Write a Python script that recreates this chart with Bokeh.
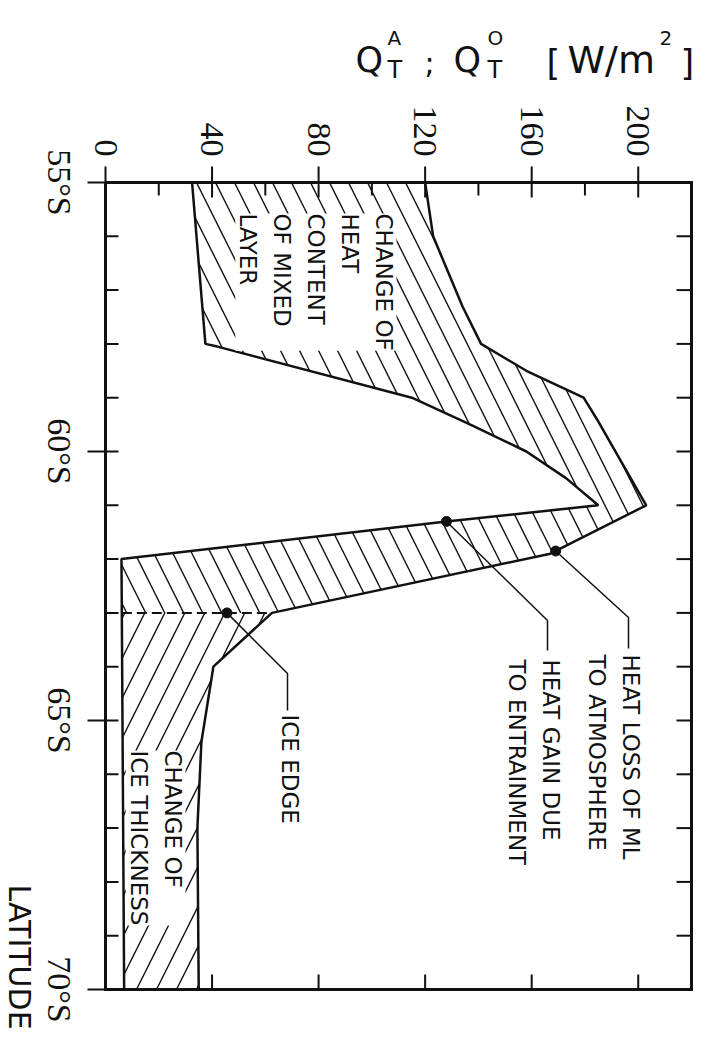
import math
import numpy as np
from bokeh.plotting import figure
from bokeh.models import Range1d, Label, LabelSet, ColumnDataSource
from bokeh.embed import file_html
from bokeh.resources import INLINE

# ---- data: latitude (deg S) and heat flux (W/m^2) ----
# heat loss of the mixed layer to the atmosphere
lat_atm = [55.0, 56.0, 57.3, 58.0, 58.5, 59.0, 59.4, 61.0, 61.9, 63.0, 64.0, 65.4, 67.0, 70.0]
q_atm = [120, 123, 134, 141, 158, 179.5, 184.5, 203, 167, 62.5, 40.5, 36, 34.5, 35]
# heat gain due to entrainment
lat_ent = [55.0, 58.0, 58.05, 59.0, 59.5, 60.0, 60.5, 61.0, 61.3, 62.0, 70.0]
q_ent = [32.5, 37.5, 42, 115, 137, 158, 173, 185, 128, 6, 7]

ice_edge_lat = 63.0
ice_edge_q = 45.6
marker_lat_atm = 61.85
marker_lat_ent = 61.3

flux_ticks = [0, 40, 80, 120, 160, 200]
flux_minor = [20, 60, 100, 140, 180]
flux_bottom_ticks = [40, 80, 120, 160, 200]
lat_ticks = [55, 60, 65, 70]
lat_minor = [56, 57, 58, 59, 61, 62, 63, 64, 66, 67, 68, 69]
lat_labels = ["55°S", "60°S", "65°S", "70°S"]

FONT = "DejaVu Sans"
INK = "#111111"

# ---- page geometry: the plot box sits inside a full-page frame ----
W, H = 708, 1057
BOX_L, BOX_R, BOX_T, BOX_B = 105, 691, 182, 989      # plot box edges, px
Q_LO, Q_HI = 0, 220
LAT_TOP, LAT_BOT = 55, 70
SX = (BOX_R - BOX_L) / (Q_HI - Q_LO)                # px per W/m^2
SY = (BOX_B - BOX_T) / (LAT_BOT - LAT_TOP)          # px per degree


def qx(px):
    """horizontal page pixel -> flux value"""
    return Q_LO + (px - BOX_L) / SX


def ly(py):
    """vertical page pixel -> latitude"""
    return LAT_TOP + (py - BOX_T) / SY


p = figure(width=W, height=H, min_border=0,
           x_range=Range1d(qx(0), qx(W)), y_range=Range1d(ly(H), ly(0)),
           x_axis_location=None, y_axis_location=None,
           toolbar_location=None, output_backend="svg",
           background_fill_color="white", border_fill_color="white")
p.grid.visible = False
p.outline_line_color = None

# ---- hatched areas ----
q_ent_edge = float(np.interp(ice_edge_lat, lat_ent, q_ent))
q_atm_edge = float(np.interp(ice_edge_lat, lat_atm, q_atm))

# change of heat content of the mixed layer (open water, up to the ice edge)
ml_lat = [la for la in lat_atm if la <= ice_edge_lat]
ml_q = [q for la, q in zip(lat_atm, q_atm) if la <= ice_edge_lat]
ml_lat += [ice_edge_lat]
ml_q += [q_ent_edge]
for la, q in reversed(list(zip(lat_ent, q_ent))):
    if la < ice_edge_lat:
        ml_lat.append(la)
        ml_q.append(q)
p.patch(ml_q, ml_lat, fill_color=None, line_color=None,
        hatch_pattern="\\", hatch_scale=38, hatch_weight=1.4, hatch_color=INK)

# change of ice thickness (south of the ice edge)
ice_lat = [ice_edge_lat] + [la for la in lat_atm if la > ice_edge_lat]
ice_q = [q_atm_edge] + [q for la, q in zip(lat_atm, q_atm) if la > ice_edge_lat]
for la, q in reversed(list(zip(lat_ent, q_ent))):
    if la > ice_edge_lat:
        ice_lat.append(la)
        ice_q.append(q)
ice_lat.append(ice_edge_lat)
ice_q.append(q_ent_edge)
p.patch(ice_q, ice_lat, fill_color=None, line_color=None,
        hatch_pattern="/", hatch_scale=40, hatch_weight=1.4, hatch_color=INK)

# ---- axes: box, ticks ----
p.line([Q_LO, Q_HI, Q_HI, Q_LO, Q_LO], [LAT_TOP, LAT_TOP, LAT_BOT, LAT_BOT, LAT_TOP],
       line_color=INK, line_width=3, line_join="miter")


def vticks(values, lat0, up_px, down_px, width=2):
    n = len(values)
    p.segment(x0=values, x1=values, y0=[lat0 - up_px / SY] * n,
              y1=[lat0 + down_px / SY] * n, line_color=INK, line_width=width)


def hticks(values, q0, left_px, right_px, width=2):
    n = len(values)
    p.segment(x0=[q0 - left_px / SX] * n, x1=[q0 + right_px / SX] * n,
              y0=values, y1=values, line_color=INK, line_width=width)


vticks(flux_ticks, LAT_TOP, 16, 15)          # top axis, major
vticks(flux_minor, LAT_TOP, 0, 13)           # top axis, minor
vticks(flux_bottom_ticks, LAT_BOT, 15, 0)    # bottom axis
hticks(lat_ticks, Q_LO, 18, 13)              # left axis, major
hticks(lat_minor, Q_LO, 0, 13)               # left axis, minor
hticks(lat_minor + [60, 65], Q_HI, 15, 0)    # right axis

# ---- curves ----
p.line(q_atm, lat_atm, line_color=INK, line_width=2.5)
p.line(q_ent, lat_ent, line_color=INK, line_width=2.5)
p.line([q_ent_edge, q_atm_edge], [ice_edge_lat, ice_edge_lat],
       line_color=INK, line_width=2, line_dash="10 5")

# ---- markers and leader lines ----
m_atm_q = float(np.interp(marker_lat_atm, lat_atm, q_atm))
m_ent_q = float(np.interp(marker_lat_ent, lat_ent, q_ent))
p.scatter([m_atm_q, m_ent_q, ice_edge_q],
          [marker_lat_atm, marker_lat_ent, ice_edge_lat],
          size=10, color=INK)


def leader(q0, lat0, px_bend, py_bend, py_end):
    p.line([q0, qx(px_bend), qx(px_bend)], [lat0, ly(py_bend), ly(py_end)],
           line_color=INK, line_width=1.5)


leader(m_atm_q, marker_lat_atm, 628, 617, 648)
leader(m_ent_q, marker_lat_ent, 547, 620, 650)
leader(ice_edge_q, ice_edge_lat, 287, 673, 710)

# ---- tick labels ----
flux_src = ColumnDataSource(dict(x=flux_ticks, y=[ly(156)] * len(flux_ticks),
                                 t=[str(v) for v in flux_ticks]))
p.add_layout(LabelSet(x="x", y="y", text="t", source=flux_src,
                      angle=-math.pi / 2, text_align="right",
                      text_baseline="middle", text_font=FONT,
                      text_font_size="34px", text_color=INK))

lat_src = ColumnDataSource(dict(x=[qx(77)] * len(lat_ticks), y=lat_ticks, t=lat_labels))
p.add_layout(LabelSet(x="x", y="y", text="t", source=lat_src,
                      angle=-math.pi / 2, text_align="center",
                      text_baseline="top", text_font=FONT,
                      text_font_size="34px", text_color=INK))

p.add_layout(Label(x=qx(36), y=ly(884), text="LATITUDE", angle=-math.pi / 2,
                   text_align="left", text_baseline="top", text_font=FONT,
                   text_font_size="30px", text_color=INK))

# ---- unit title ----
title_parts = [("Q", 355, 59, 35), ("A", 387, 37, 20), ("T", 387, 69, 24),
               (";", 424, 62, 30),
               ("Q", 453, 59, 35), ("O", 487, 37, 20), ("T", 487, 69, 24),
               ("[", 546, 62, 35), ("W/m", 567, 59, 38), ("2", 659, 37, 20),
               ("]", 680, 62, 35)]
for txt, px, py, fs in title_parts:
    p.add_layout(Label(x=qx(px), y=ly(py), text=txt, text_align="left",
                       text_baseline="alphabetic", text_font=FONT,
                       text_font_size=f"{fs}px", text_color=INK))

# ---- annotations ----
NOTE = dict(angle=-math.pi / 2, text_align="left", text_baseline="top",
            text_font=FONT, text_font_size="23px", text_color=INK,
            text_line_height=1.3)
p.add_layout(Label(x=qx(396), y=ly(213),
                   text="CHANGE OF\nHEAT\nCONTENT\nOF MIXED\nLAYER",
                   background_fill_color="white", **NOTE))
p.add_layout(Label(x=qx(643), y=ly(654), text="HEAT LOSS OF ML\nTO ATMOSPHERE", **NOTE))
p.add_layout(Label(x=qx(563), y=ly(659), text="HEAT GAIN DUE\nTO ENTRAINMENT", **NOTE))
p.add_layout(Label(x=qx(302), y=ly(714), text="ICE EDGE", **NOTE))
p.add_layout(Label(x=qx(185), y=ly(750), text="CHANGE OF\nICE THICKNESS",
                   background_fill_color="white", **NOTE))

open("out.html", "w").write(file_html(p, INLINE))
